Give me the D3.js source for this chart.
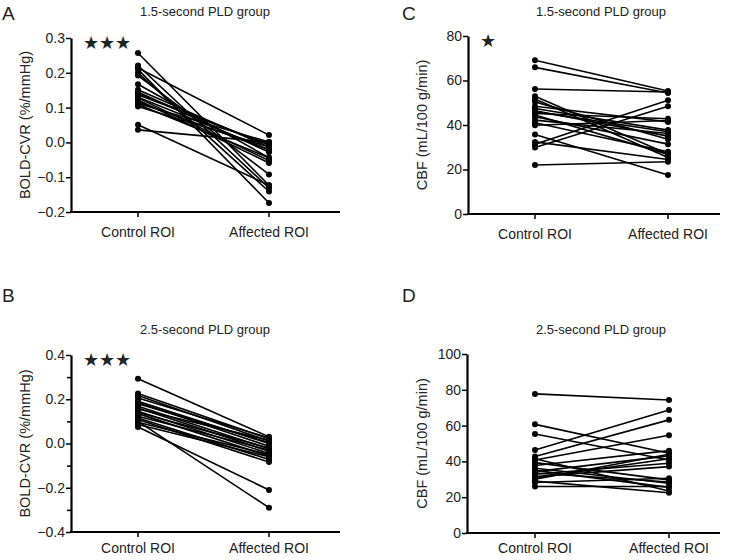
<!DOCTYPE html>
<html><head><meta charset="utf-8">
<script src="https://cdn.jsdelivr.net/npm/d3@7"></script>
<style>body{margin:0;background:#fff}svg{display:block}text{font-family:"Liberation Sans",Arial,sans-serif;fill:#222}</style>
</head><body><svg id="c" width="740" height="560"></svg>
<script>
const categories = ["Control ROI", "Affected ROI"];
const panelLetters = ["A", "B", "C", "D"];
const panelTitles = ["1.5-second PLD group", "2.5-second PLD group", "1.5-second PLD group", "2.5-second PLD group"];
const yLabels = ["BOLD-CVR (%/mmHg)", "BOLD-CVR (%/mmHg)", "CBF (mL/100 g/min)", "CBF (mL/100 g/min)"];
const significance = ["★★★", "★★★", "★", ""];
const ticksA = [-0.2, -0.1, 0.0, 0.1, 0.2, 0.3];
const ticksB = [-0.4, -0.2, 0.0, 0.2, 0.4];
const minorB = [-0.3, -0.1, 0.1, 0.3];
const ticksC = [0, 20, 40, 60, 80];
const ticksD = [0, 20, 40, 60, 80, 100];

const controlA = [0.257, 0.221, 0.214, 0.21, 0.2, 0.192, 0.167, 0.151, 0.145, 0.137, 0.13, 0.128, 0.122, 0.116, 0.112, 0.109, 0.103, 0.051, 0.036, 0.14];
const affectedA = [-0.123, -0.131, 0.021, -0.174, -0.141, -0.092, -0.044, -0.013, -0.028, -0.007, -0.021, -0.052, -0.059, -0.021, 0.001, -0.044, -0.013, -0.123, 0.001, -0.007];

const controlB = [0.293, 0.226, 0.217, 0.206, 0.191, 0.185, 0.180, 0.168, 0.160, 0.156, 0.146, 0.140, 0.135, 0.123, 0.115, 0.108, 0.096, 0.086, 0.075, 0.10];
const affectedB = [0.03, 0.021, 0.011, 0.025, 0.0, -0.012, 0.005, -0.024, -0.035, 0.015, -0.045, -0.02, -0.057, -0.03, -0.072, -0.084, -0.05, -0.06, -0.21, -0.29];

const controlC = [69.1, 65.9, 56.2, 52.9, 51.7, 50.4, 48.4, 47.4, 46.4, 45.2, 43.7, 42.2, 41.0, 39.9, 35.7, 32.4, 31.4, 29.9, 22.0, 46.0, 44.5];
const affectedC = [55.3, 54.4, 54.8, 27.0, 25.4, 33.6, 41.4, 37.7, 35.0, 42.8, 31.4, 36.2, 28.0, 42.0, 17.5, 24.5, 51.1, 48.4, 23.5, 37.0, 26.8];

const controlD = [77.7, 60.7, 55.3, 46.4, 42.7, 40.8, 39.3, 37.7, 36.2, 34.3, 32.8, 31.5, 30.0, 28.2, 26.0, 41.5, 35.0, 33.5, 30.8, 29.0];
const affectedD = [74.3, 44.6, 40.8, 68.7, 63.2, 54.6, 29.7, 46.0, 27.8, 43.1, 39.0, 37.1, 44.0, 30.6, 26.0, 23.5, 25.5, 28.5, 41.5, 22.5];

const panels = [
  {ctrl: controlA, aff: affectedA, ticks: ticksA, minor: [], dom: [-0.2, 0.3], fmt: d3.format(".1f"),
   x0: 71, x1: 340, yTop: 38, yBot: 212, cx: [138, 269], lx: 26, letter: [2, 20], tx: 205, ty: 16, lab: 25},
  {ctrl: controlB, aff: affectedB, ticks: ticksB, minor: minorB, dom: [-0.4, 0.4], fmt: d3.format(".1f"),
   x0: 71, x1: 340, yTop: 355, yBot: 532, cx: [138, 269], lx: 26, letter: [2, 302], tx: 205, ty: 334, lab: 21},
  {ctrl: controlC, aff: affectedC, ticks: ticksC, minor: [], dom: [0, 80], fmt: d3.format("d"),
   x0: 468, x1: 720, yTop: 36, yBot: 214, cx: [535, 668], lx: 423, letter: [402, 20], tx: 601, ty: 16, lab: 25},
  {ctrl: controlD, aff: affectedD, ticks: ticksD, minor: [], dom: [0, 100], fmt: d3.format("d"),
   x0: 467, x1: 720, yTop: 354, yBot: 533, cx: [535, 669], lx: 423, letter: [402, 302], tx: 601, ty: 334, lab: 20}
];

const svg = d3.select("#c");
panels.forEach((p, i) => {
  const g = svg.append("g");
  const y = d3.scaleLinear().domain(p.dom).range([p.yBot, p.yTop]);
  const x = d3.scaleOrdinal().domain(categories).range(p.cx);

  const ya = g.append("g").attr("transform", `translate(${p.x0},0)`)
    .call(d3.axisLeft(y).tickValues(p.ticks).tickFormat(p.fmt).tickSize(5).tickSizeOuter(0));
  ya.select(".domain").attr("stroke", "#000").attr("stroke-width", 2.2);
  ya.selectAll(".tick line").attr("stroke", "#000").attr("stroke-width", 1.5);
  ya.selectAll(".tick text").attr("font-size", 14).attr("fill", "#222").attr("x", -6)
    .text(d => (d < 0 ? "\u2212" + p.fmt(-d) : p.fmt(d)));
  if (p.minor.length) {
    g.append("g").attr("transform", `translate(${p.x0},0)`)
      .call(d3.axisLeft(y).tickValues(p.minor).tickFormat("").tickSize(4))
      .call(s => { s.select(".domain").remove(); s.selectAll(".tick line").attr("stroke", "#000").attr("stroke-width", 1.5); });
  }
  const xa = g.append("g").attr("transform", `translate(0,${p.yBot})`);
  xa.append("line").attr("x1", p.x0 - 1).attr("x2", p.x1).attr("stroke", "#000").attr("stroke-width", 2.2);
  categories.forEach(c => {
    xa.append("line").attr("x1", x(c)).attr("x2", x(c)).attr("y1", 0).attr("y2", 5).attr("stroke", "#000").attr("stroke-width", 1.5);
    xa.append("text").attr("x", x(c)).attr("y", p.lab).attr("text-anchor", "middle").attr("font-size", 14).text(c);
  });

  const line = d3.line().x(d => x(d[0])).y(d => y(d[1]));
  p.ctrl.forEach((v, k) => {
    g.append("path").attr("d", line([[categories[0], v], [categories[1], p.aff[k]]]))
      .attr("stroke", "#000").attr("stroke-width", 1.6).attr("fill", "none");
  });
  p.ctrl.forEach(v => g.append("circle").attr("cx", x(categories[0])).attr("cy", y(v)).attr("r", 3).attr("fill", "#000"));
  p.aff.forEach(v => g.append("circle").attr("cx", x(categories[1])).attr("cy", y(v)).attr("r", 3).attr("fill", "#000"));

  g.append("text").attr("x", p.letter[0]).attr("y", p.letter[1]).attr("font-size", 19).text(panelLetters[i]);
  g.append("text").attr("x", p.tx).attr("y", p.ty).attr("text-anchor", "middle").attr("font-size", 13).text(panelTitles[i]);
  g.append("text").attr("transform", `translate(${p.lx},${(p.yTop + p.yBot) / 2}) rotate(-90)`)
    .attr("text-anchor", "middle").attr("dominant-baseline", "middle").attr("font-size", 14.5).text(yLabels[i]);
  if (significance[i]) {
    g.append("text").attr("x", p.x0 + 12).attr("y", p.yTop + 11).attr("font-size", 18).attr("fill", "#000").text(significance[i]);
  }
});
</script></body></html>
